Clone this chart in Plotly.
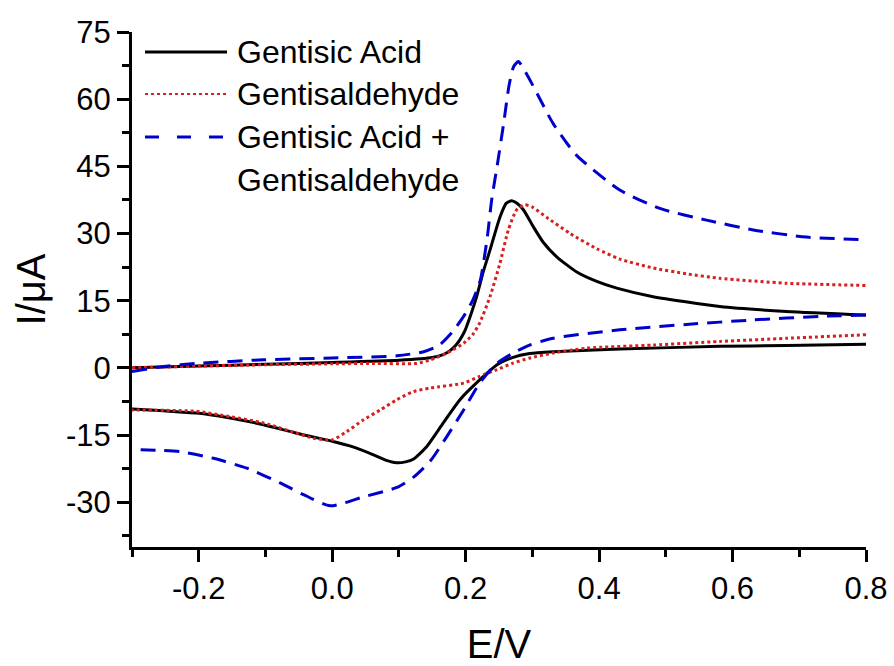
import plotly.graph_objects as go

# ---- data ----
# Gentisic Acid: forward (anodic) and reverse (cathodic) scans
ga_fwd_E = [-0.300, -0.200, -0.100, 0.000, 0.100, 0.150, 0.170, 0.185, 0.198, 0.208, 0.2165, 0.2265,
            0.2365, 0.2515, 0.261, 0.269, 0.2765, 0.2865, 0.3015, 0.3165, 0.3365, 0.3665, 0.3965,
            0.4265, 0.481, 0.581, 0.681, 0.800]
ga_fwd_I = [0.0, 0.4, 0.8, 1.2, 1.7, 2.3, 3.2, 5.0, 8.0, 12.0, 15.9, 21.5,
            26.3, 33.7, 36.8, 37.3, 36.8, 35.3, 31.5, 28.0, 24.8, 21.4, 19.3,
            17.8, 15.9, 13.7, 12.6, 11.8]
ga_rev_E = [0.800, 0.681, 0.581, 0.431, 0.331, 0.296, 0.270, 0.247, 0.221, 0.1915, 0.1665, 0.1415,
            0.1215, 0.110, 0.0965, 0.080, 0.060, 0.030, 0.000, -0.053, -0.103, -0.153, -0.203,
            -0.253, -0.300]
ga_rev_I = [5.3, 5.0, 4.8, 4.2, 3.6, 3.2, 2.3, 0.7, -2.7, -7.1, -12.3, -17.6,
            -20.4, -21.0, -21.2, -20.6, -19.3, -17.6, -16.4, -14.6, -12.7, -11.2, -10.1,
            -9.6, -9.2]

# Gentisaldehyde
gd_fwd_E = [-0.300, -0.200, -0.100, 0.000, 0.060, 0.127, 0.147, 0.172, 0.197, 0.211, 0.221, 0.2365,
            0.2515, 0.264, 0.2765, 0.289, 0.300, 0.3215, 0.3565, 0.3965, 0.431, 0.481, 0.531,
            0.581, 0.681, 0.800]
gd_fwd_I = [0.0, 0.4, 0.7, 0.9, 1.0, 1.0, 1.8, 3.3, 5.5, 7.5, 10.0, 15.9,
            23.4, 30.8, 35.3, 36.4, 35.9, 33.6, 30.0, 26.6, 24.3, 22.3, 21.0,
            20.0, 18.9, 18.4]
gd_rev_E = [0.800, 0.681, 0.581, 0.481, 0.381, 0.331, 0.296, 0.270, 0.247, 0.221, 0.197, 0.147,
            0.122, 0.097, 0.072, 0.047, 0.022, 0.000, -0.028, -0.053, -0.103, -0.153, -0.203,
            -0.300]
gd_rev_I = [7.4, 6.6, 5.9, 5.1, 4.4, 3.3, 2.2, 1.0, -0.4, -1.9, -3.4, -4.5,
            -5.3, -7.1, -9.4, -11.6, -14.2, -16.1, -15.7, -14.6, -12.3, -10.9, -9.7,
            -9.4]

# Gentisic Acid + Gentisaldehyde
mix_fwd_E = [-0.300, -0.253, -0.203, -0.103, 0.000, 0.097, 0.137, 0.160, 0.180, 0.197, 0.211, 0.222,
             0.232, 0.239, 0.247, 0.257, 0.265, 0.272, 0.279, 0.288, 0.301, 0.331, 0.366, 0.431,
             0.491, 0.561, 0.631, 0.711, 0.800]
mix_fwd_I = [-0.8, 0.3, 1.0, 1.8, 2.2, 2.7, 3.6, 5.0, 8.0, 11.5, 15.2, 19.6,
             28.6, 37.5, 44.9, 54.6, 63.0, 67.3, 68.4, 66.5, 63.0, 54.6, 47.5, 39.7,
             35.6, 33.0, 30.8, 29.2, 28.6]
mix_rev_E = [0.800, 0.731, 0.631, 0.531, 0.431, 0.331, 0.296, 0.270, 0.247, 0.221, 0.197, 0.172,
             0.147, 0.122, 0.097, 0.047, -0.003, -0.043, -0.078, -0.128, -0.178, -0.228, -0.300]
mix_rev_I = [11.8, 11.5, 10.7, 9.7, 8.5, 6.6, 5.1, 3.2, 1.0, -3.4, -9.4, -15.3,
             -20.8, -24.4, -26.7, -28.8, -30.8, -28.3, -25.7, -22.4, -20.2, -18.7, -18.2]

series_names = ["Gentisic Acid", "Gentisaldehyde", "Gentisic Acid +<br>Gentisaldehyde"]

x_tick_vals = [-0.2, 0.0, 0.2, 0.4, 0.6, 0.8]
x_tick_text = [f"{v:.1f}" for v in x_tick_vals]
y_tick_vals = [-30, -15, 0, 15, 30, 45, 60, 75]
y_tick_text = [f"{v:g}" for v in y_tick_vals]

# ---- styles ----
colors = ["#000000", "#d81e1e", "#0000cc"]
dashes = ["solid", "dot", "15px,9px"]
FONT = "Arial, Liberation Sans, sans-serif"

fig = go.Figure()
scans = [
    (ga_fwd_E, ga_fwd_I, ga_rev_E, ga_rev_I),
    (gd_fwd_E, gd_fwd_I, gd_rev_E, gd_rev_I),
    (mix_fwd_E, mix_fwd_I, mix_rev_E, mix_rev_I),
]
for (fE, fI, rE, rI), name, c, d in zip(scans, series_names, colors, dashes):
    fig.add_trace(go.Scatter(x=fE + [None] + rE, y=fI + [None] + rI, mode="lines", name=name,
                             connectgaps=False,
                             line=dict(color=c, width=3, dash=d, shape="spline", smoothing=0.6),
                             showlegend=False))

# manual legend (paper coordinates)
L, R, T, B = 132, 865.7, 32, 547
def px(x):
    return (x - L) / (R - L)
def py(y):
    return (B - y) / (B - T)

leg_rows = [52, 94, 137]
leg_dash = ["solid", "dot", "14px,18px"]
leg_width = [3, 2, 3]
for row, c, d, w in zip(leg_rows, colors, leg_dash, leg_width):
    fig.add_shape(type="line", xref="paper", yref="paper",
                  x0=px(145), x1=px(227), y0=py(row), y1=py(row),
                  line=dict(color=c, width=w, dash=d))
text_rows = [52, 94, 137, 180]
lines = []
for n in series_names:
    lines.extend(n.split("<br>"))
for row, t in zip(text_rows, lines):
    fig.add_annotation(xref="paper", yref="paper", x=px(235), y=py(row),
                       xanchor="left", yanchor="middle", showarrow=False,
                       text=t, font=dict(family=FONT, size=32, color="black"))

axis_common = dict(showline=True, linewidth=3, linecolor="black", showgrid=False,
                   zeroline=False, ticks="outside", ticklen=12, tickwidth=3,
                   tickcolor="black", mirror=False, automargin=False,
                   tickfont=dict(family=FONT, size=31, color="black"))

fig.update_xaxes(range=[-0.3, 0.8], tickmode="array", tickvals=x_tick_vals,
                 ticktext=x_tick_text,
                 minor=dict(tickmode="linear", tick0=-0.3, dtick=0.1, ticks="outside",
                            ticklen=7, tickwidth=3, tickcolor="black"),
                 title=dict(text="E/V", font=dict(family=FONT, size=40, color="black"),
                            standoff=28),
                 **axis_common)
fig.update_yaxes(range=[-40, 75], tickmode="array", tickvals=y_tick_vals,
                 ticktext=y_tick_text,
                 minor=dict(tickmode="linear", tick0=0, dtick=7.5, ticks="outside",
                            ticklen=7, tickwidth=3, tickcolor="black"),
                 title=dict(text="I/\u03bcA", font=dict(family=FONT, size=40, color="black"),
                            standoff=8),
                 **axis_common)

fig.update_layout(width=894, height=666, plot_bgcolor="white", paper_bgcolor="white",
                  margin=dict(l=L, r=894 - R, t=T, b=666 - B),
                  showlegend=False)

fig.write_html("out.html")
